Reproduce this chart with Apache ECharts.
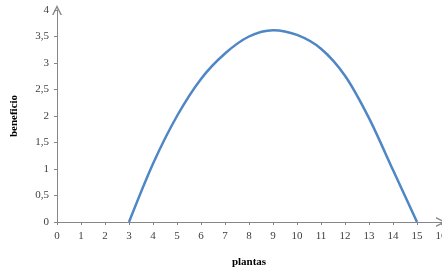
<!DOCTYPE html>
<html>
<head>
<meta charset="utf-8">
<script src="https://cdn.jsdelivr.net/npm/echarts@6/dist/echarts.min.js"></script>
<style>
html,body{margin:0;padding:0;background:#fff;}
#chart{width:442px;height:271px;}
</style>
</head>
<body>
<div id="chart"></div>
<script>
var plantas = [3, 4, 5, 6, 7, 8, 9, 10, 11, 12, 13, 14, 15];
var beneficio = [0, 1.1, 2.0, 2.7, 3.18, 3.5, 3.62, 3.53, 3.27, 2.76, 1.96, 0.98, 0];
var xTitle = 'plantas';
var yTitle = 'beneficio';

var chart = echarts.init(document.getElementById('chart'), null, {renderer: 'canvas'});
var axisGray = '#868686';
var labelFont = {fontFamily: 'Liberation Serif', fontSize: 11, color: '#404040'};
var arrowPath = 'path://M0,12 L6,0 L12,12 L10.2,12 L6,3.6 L1.8,12 Z';
chart.setOption({
  animation: false,
  grid: {left: 57, right: 1, top: 10, bottom: 49, containLabel: false, outerBoundsMode: 'none'},
  xAxis: {
    type: 'value', min: 0, max: 16, interval: 1,
    name: xTitle, nameLocation: 'middle', nameGap: 35,
    nameTextStyle: {fontFamily: 'Liberation Serif', fontWeight: 'bold', fontSize: 11, color: '#000'},
    axisLine: {show: true, lineStyle: {color: axisGray, width: 1}, symbol: ['none', arrowPath], symbolSize: [11, 10]},
    axisTick: {show: true, length: 3, lineStyle: {color: axisGray}},
    axisLabel: Object.assign({margin: 9}, labelFont),
    splitLine: {show: false}
  },
  yAxis: {
    type: 'value', min: 0, max: 4, interval: 0.5,
    name: yTitle, nameLocation: 'middle', nameGap: 37, nameRotate: 90,
    nameTextStyle: {fontFamily: 'Liberation Serif', fontWeight: 'bold', fontSize: 11, color: '#000'},
    axisLine: {show: true, lineStyle: {color: axisGray, width: 1}, symbol: ['none', arrowPath], symbolSize: [11, 10]},
    axisTick: {show: true, length: 3, lineStyle: {color: axisGray}},
    axisLabel: Object.assign({margin: 8, formatter: function (v) { return String(v).replace('.', ','); }}, labelFont),
    splitLine: {show: false}
  },
  series: [{
    type: 'line',
    data: plantas.map(function (x, i) { return [x, beneficio[i]]; }),
    smooth: 0.3,
    showSymbol: false,
    lineStyle: {color: '#4F86C6', width: 2.5}
  }]
});
</script>
</body>
</html>
